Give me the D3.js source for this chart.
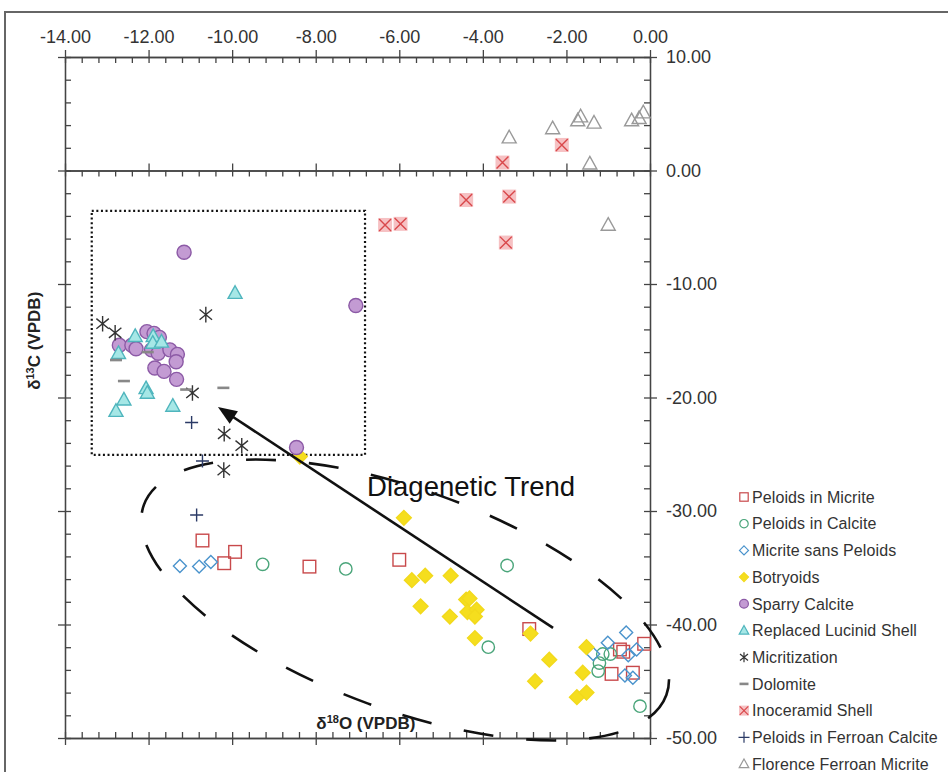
<!DOCTYPE html>
<html>
<head>
<meta charset="utf-8">
<script src="https://cdn.jsdelivr.net/npm/d3@7"></script>
<style>
body { margin: 0; background: #fff; }
svg { display: block; font-family: "Liberation Sans", Arial, sans-serif; }
.axis path, .axis line { stroke: #444; stroke-width: 1.3; }
.axis text { font-size: 18px; fill: #333; font-family: "Liberation Sans", Arial, sans-serif; }
</style>
</head>
<body>
<div id="chart"></div>
<script>
// axis ticks
const xTicks = [-14, -12, -10, -8, -6, -4, -2, 0];
const yTicks = [10, 0, -10, -20, -30, -40, -50];

// series: [δ18O, δ13C]
const peloidsMicrite = [[-10.71, -32.6], [-9.93, -33.6], [-10.19, -34.6], [-8.15, -34.9], [-6.0, -34.3],
  [-2.89, -40.4], [-0.72, -42.2], [-0.64, -42.4], [-0.14, -41.7], [-0.92, -44.35], [-0.41, -44.25]];
const peloidsCalcite = [[-9.27, -34.7], [-7.28, -35.1], [-3.42, -34.8], [-3.87, -42.0], [-1.13, -42.6],
  [-0.95, -42.6], [-1.21, -43.4], [-1.24, -44.1], [-0.24, -47.2]];
const micriteSans = [[-11.25, -34.85], [-10.79, -34.9], [-10.51, -34.5], [-0.57, -40.7], [-1.01, -41.6],
  [-1.36, -42.6], [-0.52, -42.7], [-0.32, -42.2], [-0.6, -44.5], [-0.41, -44.7]];
const botryoids = [[-8.38, -25.2], [-5.89, -30.6], [-5.70, -36.1], [-5.38, -35.7], [-4.77, -35.7], [-5.49, -38.4],
  [-4.79, -39.3], [-4.40, -37.8], [-4.32, -37.7], [-4.37, -38.9], [-4.15, -38.7], [-4.19, -39.3],
  [-4.19, -41.2], [-2.86, -40.8], [-2.41, -43.1], [-2.75, -45.0], [-1.52, -42.0], [-1.61, -44.25],
  [-1.75, -46.4], [-1.52, -46.0]];
const sparry = [[-11.15, -7.2], [-7.04, -11.9], [-8.46, -24.4], [-12.04, -14.2], [-11.87, -14.35],
  [-11.74, -14.7], [-12.70, -15.4], [-12.40, -15.4], [-12.30, -15.7], [-11.93, -15.8], [-11.77, -16.1],
  [-11.49, -15.8], [-11.31, -16.2], [-11.34, -16.85], [-11.85, -17.4], [-11.63, -17.7], [-11.33, -18.4]];
const lucinid = [[-9.93, -10.8], [-12.32, -14.6], [-11.89, -14.6], [-11.90, -15.2], [-11.69, -15.1],
  [-12.72, -16.1], [-12.06, -19.2], [-12.03, -19.6], [-12.59, -20.2], [-12.78, -21.2], [-11.42, -20.75]];
const micritization = [[-13.10, -13.5], [-12.80, -14.3], [-10.63, -12.7], [-10.95, -19.6], [-10.19, -23.2],
  [-9.77, -24.25], [-10.2, -26.4]];
const dolomite = [[-12.78, -16.7], [-12.59, -18.55], [-12.02, -16.0], [-11.10, -19.3], [-10.21, -19.15]];
const inoceramid = [[-3.53, 0.7], [-2.11, 2.25], [-4.40, -2.6], [-3.37, -2.3], [-6.34, -4.8], [-5.97, -4.7],
  [-3.45, -6.35]];
const ferroanCalcite = [[-10.97, -22.2], [-10.71, -25.6], [-10.85, -30.35]];
const florence = [[-3.37, 2.9], [-2.33, 3.7], [-1.73, 4.4], [-1.66, 4.75], [-1.34, 4.2], [-1.44, 0.6],
  [-0.44, 4.4], [-0.26, 4.6], [-0.16, 5.1], [-1.0, -4.8]];

const series = [
  { name: "Peloids in Micrite", data: peloidsMicrite, shape: "square", stroke: "#c8494b", fill: "none" },
  { name: "Peloids in Calcite", data: peloidsCalcite, shape: "circle", stroke: "#4aa57a", fill: "none" },
  { name: "Micrite sans Peloids", data: micriteSans, shape: "diamond", stroke: "#4a93cc", fill: "none" },
  { name: "Botryoids", data: botryoids, shape: "diamond", stroke: "#f2d91c", fill: "#f5de1e" },
  { name: "Sparry Calcite", data: sparry, shape: "bigcircle", stroke: "#8c5aa6", fill: "#c39bd3" },
  { name: "Replaced Lucinid Shell", data: lucinid, shape: "triangle", stroke: "#4fb5bd", fill: "#a6e7e6" },
  { name: "Micritization", data: micritization, shape: "asterisk", stroke: "#333", fill: "none" },
  { name: "Dolomite", data: dolomite, shape: "dash", stroke: "#888", fill: "none" },
  { name: "Inoceramid Shell", data: inoceramid, shape: "xbox", stroke: "#d9484b", fill: "#f4b6b8" },
  { name: "Peloids in Ferroan Calcite", data: ferroanCalcite, shape: "plus", stroke: "#2b3a66", fill: "none" },
  { name: "Florence Ferroan Micrite", data: florence, shape: "triangle", stroke: "#999", fill: "none" }
];

const margin = { left: 65, top: 57 };
const width = 585;
const height = 681;

const svg = d3.select("#chart").append("svg")
  .attr("width", 948)
  .attr("height", 772);

svg.append("rect")
  .attr("x", 5).attr("y", 12)
  .attr("width", 980).attr("height", 800)
  .attr("fill", "none")
  .attr("stroke", "#666")
  .attr("stroke-width", 2);

const g = svg.append("g")
  .attr("transform", `translate(${margin.left},${margin.top})`);

const x = d3.scaleLinear().domain([-14, 0]).range([0, width]);
const y = d3.scaleLinear().domain([-50, 10]).range([height, 0]);

const xMinor = d3.range(-14, 0.001, 0.4);
const yMinor = d3.range(-50, 10.001, 2);
const fmt = d => d.toFixed(2);

function axisG(tr) {
  return g.append("g").attr("class", "axis").attr("transform", tr);
}

// top axis (labels)
axisG(`translate(0,${y(10)})`).call(d3.axisTop(x).tickValues(xTicks).tickSize(7).tickSizeOuter(0).tickPadding(7).tickFormat(fmt));
axisG(`translate(0,${y(10)})`).call(d3.axisBottom(x).tickValues(xMinor).tickSize(6).tickSizeOuter(0).tickFormat(""));
// zero line
axisG(`translate(0,${y(0)})`).call(d3.axisTop(x).tickValues(xTicks).tickSize(7).tickSizeOuter(0).tickFormat(""));
axisG(`translate(0,${y(0)})`).call(d3.axisBottom(x).tickValues(xMinor).tickSize(6).tickSizeOuter(0).tickFormat(""));
// bottom
axisG(`translate(0,${y(-50)})`).call(d3.axisBottom(x).tickValues(xTicks).tickSize(7).tickSizeOuter(0).tickFormat(""));
axisG(`translate(0,${y(-50)})`).call(d3.axisTop(x).tickValues(xMinor).tickSize(6).tickSizeOuter(0).tickFormat(""));
// right axis (labels)
axisG(`translate(${x(0)},0)`).call(d3.axisRight(y).tickValues(yTicks).tickSize(7).tickSizeOuter(0).tickPadding(9).tickFormat(fmt));
axisG(`translate(${x(0)},0)`).call(d3.axisLeft(y).tickValues(yMinor).tickSize(6).tickSizeOuter(0).tickFormat(""));
// left axis
axisG(`translate(${x(-14)},0)`).call(d3.axisLeft(y).tickValues(yTicks).tickSize(7).tickSizeOuter(0).tickFormat(""));
axisG(`translate(${x(-14)},0)`).call(d3.axisRight(y).tickValues(yMinor).tickSize(6).tickSizeOuter(0).tickFormat(""));

// axis titles
const yTitle = svg.append("text")
  .attr("transform", `translate(40,${margin.top + y(-15)}) rotate(-90)`)
  .attr("text-anchor", "middle")
  .attr("font-size", 17).attr("font-weight", "bold").attr("fill", "#222");
yTitle.append("tspan").text("δ");
yTitle.append("tspan").attr("font-size", 11).attr("dy", -6).text("13");
yTitle.append("tspan").attr("dy", 6).text("C (VPDB)");

const xTitle = g.append("text")
  .attr("x", x(-6.8)).attr("y", y(-49.2))
  .attr("text-anchor", "middle")
  .attr("font-size", 17).attr("font-weight", "bold").attr("fill", "#222");
xTitle.append("tspan").text("δ");
xTitle.append("tspan").attr("font-size", 11).attr("dy", -6).text("18");
xTitle.append("tspan").attr("dy", 6).text("O (VPDB)");

// dotted box
g.append("rect")
  .attr("x", x(-13.36)).attr("y", y(-3.55))
  .attr("width", x(-6.82) - x(-13.36))
  .attr("height", y(-25.05) - y(-3.55))
  .attr("fill", "none")
  .attr("stroke", "#111")
  .attr("stroke-width", 2.2)
  .attr("stroke-dasharray", "2,2.6");

// dashed ellipse
g.append("ellipse")
  .attr("transform", `translate(${x(-5.86)},${y(-37.84)}) rotate(20)`)
  .attr("rx", 278).attr("ry", 110)
  .attr("fill", "none")
  .attr("stroke", "#111")
  .attr("stroke-width", 2.6)
  .attr("stroke-dasharray", "30,33");

// markers
function marker(sel, shape, s) {
  const r = s;
  if (shape === "square") {
    sel.append("rect").attr("x", -r).attr("y", -r).attr("width", 2 * r).attr("height", 2 * r);
  } else if (shape === "circle" || shape === "bigcircle") {
    sel.append("circle").attr("r", r);
  } else if (shape === "diamond") {
    sel.append("path").attr("d", `M0,${-r}L${r},0L0,${r}L${-r},0Z`);
  } else if (shape === "triangle") {
    sel.append("path").attr("d", `M0,${-r * 1.05}L${r},${r * 0.75}L${-r},${r * 0.75}Z`);
  } else if (shape === "asterisk") {
    sel.append("path").attr("d",
      `M0,${-r}V${r}M${-r * 0.8},${-r * 0.65}L${r * 0.8},${r * 0.65}M${-r * 0.8},${r * 0.65}L${r * 0.8},${-r * 0.65}`);
  } else if (shape === "dash") {
    sel.append("path").attr("d", `M${-r},0H${r}`).attr("stroke-width", 2.6);
  } else if (shape === "plus") {
    sel.append("path").attr("d", `M${-r},0H${r}M0,${-r}V${r}`);
  } else if (shape === "xbox") {
    sel.append("rect").attr("x", -r).attr("y", -r).attr("width", 2 * r).attr("height", 2 * r)
      .attr("stroke", "none").attr("opacity", 0.85);
    sel.append("path").attr("d", `M${-r * 0.85},${-r * 0.85}L${r * 0.85},${r * 0.85}M${-r * 0.85},${r * 0.85}L${r * 0.85},${-r * 0.85}`)
      .attr("fill", "none");
  }
}

const sizes = { square: 6.3, circle: 6.2, diamond: 6.5, bigcircle: 7, triangle: 7, asterisk: 7.8, dash: 6, plus: 6.5, xbox: 7 };
const drawOrder = [10, 8, 0, 1, 2, 3, 4, 5, 6, 7, 9];

drawOrder.forEach(i => {
  const s = series[i];
  const sz = s.name === "Botryoids" ? 7.4 : sizes[s.shape];
  g.append("g").selectAll("g")
    .data(s.data)
    .join("g")
    .attr("transform", d => `translate(${x(d[0])},${y(d[1])})`)
    .attr("fill", s.fill)
    .attr("stroke", s.stroke)
    .attr("stroke-width", 1.4)
    .each(function () { marker(d3.select(this), s.shape, sz); });
});

// diagenetic trend arrow
const a0 = [x(-2.32), y(-40.3)];
const a1 = [x(-10.34), y(-20.84)];
const ang = Math.atan2(a1[1] - a0[1], a1[0] - a0[0]);
const hl = 19, hw = 7.5;
const base = [a1[0] - hl * Math.cos(ang), a1[1] - hl * Math.sin(ang)];
g.append("line")
  .attr("x1", a0[0]).attr("y1", a0[1])
  .attr("x2", base[0] + 4 * Math.cos(ang)).attr("y2", base[1] + 4 * Math.sin(ang))
  .attr("stroke", "#111").attr("stroke-width", 2.6);
g.append("path")
  .attr("d", `M${a1[0]},${a1[1]}L${base[0] - hw * Math.sin(ang)},${base[1] + hw * Math.cos(ang)}L${base[0] + hw * Math.sin(ang)},${base[1] - hw * Math.cos(ang)}Z`)
  .attr("fill", "#111");

g.append("text")
  .attr("x", x(-6.77)).attr("y", y(-28.7))
  .attr("font-size", 27.5).attr("fill", "#111")
  .text("Diagenetic Trend");

// legend
const legend = svg.append("g").attr("transform", "translate(744,497)");
series.forEach((s, i) => {
  const row = legend.append("g").attr("transform", `translate(0,${i * 26.7})`);
  const m = row.append("g")
    .attr("fill", s.fill).attr("stroke", s.stroke).attr("stroke-width", 1.2);
  const ls = { square: 4.2, circle: 4.2, diamond: 4.5, bigcircle: 4.4, triangle: 4.8, asterisk: 5, dash: 4.5, plus: 5.5, xbox: 5 }[s.shape];
  marker(m, s.shape, ls);
  row.append("text")
    .attr("x", 8).attr("dy", "0.36em")
    .attr("font-size", 16).attr("letter-spacing", 0.1).attr("fill", "#333")
    .text(s.name);
});
</script>
</body>
</html>
